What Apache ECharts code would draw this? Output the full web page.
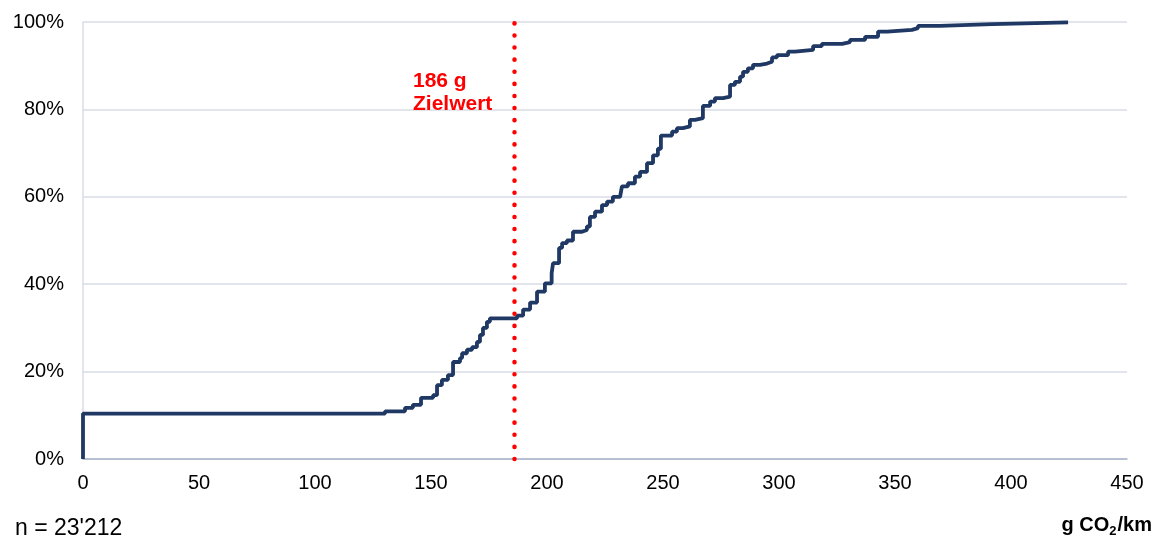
<!DOCTYPE html>
<html><head><meta charset="utf-8">
<script src="https://cdn.jsdelivr.net/npm/echarts@6/dist/echarts.min.js"></script>
<style>html,body{margin:0;padding:0;background:#fff}#c{width:1162px;height:537px}</style>
</head><body><div id="c"></div>
<script>
// CO2 values (g/km) where cumulative share changes, and the share after the step (%)
const co2Values = [0, 0, 130.2, 138.8, 142.2, 145.7, 150.9, 152.6, 154.7, 157.3, 159.5, 162.5, 163.4, 165.5, 167.7, 169.8, 171.1, 172.4, 174.1, 175.4, 187.1, 189.7, 192.7, 195.7, 199.1, 202.0, 202.6, 205.2, 206.5, 208.6, 211.2, 215.1, 217.2, 218.5, 220.7, 223.7, 225.9, 228.4, 231.5, 232.3, 234.9, 237.9, 240.1, 243.1, 245.7, 247.8, 249.1, 253.9, 256.0, 258.6, 261.6, 263.8, 267.2, 270.3, 272.4, 275.9, 278.9, 281.0, 283.2, 284.5, 286.6, 288.8, 291.8, 294.8, 297.0, 299.1, 303.9, 306.9, 314.7, 318.5, 327.2, 330.6, 337.1, 342.7, 346.6, 357.3, 359.9, 369.4, 391.8, 424.6];
const cumShare = [0, 10.4, 10.9, 11.7, 12.4, 14.0, 14.6, 16.9, 18.1, 19.2, 22.2, 23.1, 24.2, 25.0, 25.6, 26.8, 28.4, 30.0, 31.4, 32.2, 32.8, 34.2, 35.8, 38.3, 40.2, 42.5, 44.8, 48.3, 49.4, 50.0, 52.0, 52.4, 53.2, 55.4, 56.6, 58.1, 58.9, 60.0, 60.4, 62.4, 63.1, 64.6, 65.7, 67.7, 69.5, 71.0, 74.0, 74.9, 75.7, 76.1, 77.6, 78.0, 80.8, 81.8, 82.6, 82.9, 85.6, 86.3, 87.5, 88.6, 89.4, 90.2, 90.5, 90.9, 91.9, 92.4, 93.2, 93.6, 94.5, 95.0, 95.4, 95.9, 96.6, 97.8, 98.2, 98.6, 99.1, 99.5, 99.9, 100];
const xTicks = [0, 50, 100, 150, 200, 250, 300, 350, 400, 450];
const yTicks = [0, 20, 40, 60, 80, 100];
const targetValue = 186;
const targetLabel = ['186 g', 'Zielwert'];
const sampleNote = "n = 23'212";

const chart = echarts.init(document.getElementById('c'));
const font = '"Liberation Sans", Arial, sans-serif';
const data = co2Values.map((v, i) => [v, cumShare[i]]);
chart.setOption({
  animation: false,
  grid: {left: 83, right: 35, top: 22, bottom: 78},
  xAxis: {
    type: 'value', min: xTicks[0], max: xTicks[xTicks.length - 1], interval: 50,
    axisLine: {show: true, lineStyle: {color: '#a9b4cc', width: 1.5}},
    axisTick: {show: false},
    splitLine: {show: false},
    axisLabel: {color: '#000', fontSize: 20, fontFamily: font, margin: 14}
  },
  yAxis: {
    type: 'value', min: yTicks[0], max: yTicks[yTicks.length - 1], interval: 20,
    axisLine: {show: true, lineStyle: {color: '#d9dde5', width: 1.5}},
    axisTick: {show: false},
    splitLine: {show: true, lineStyle: {color: '#d9dde5', width: 1.5}},
    axisLabel: {color: '#000', fontSize: 20, fontFamily: font, margin: 19, formatter: '{value}%'}
  },
  series: [{
    type: 'line', step: 'end', data: data, symbol: 'none',
    lineStyle: {color: '#1f3864', width: 3.8},
    z: 3
  }, {
    type: 'line', data: [],
    markLine: {
      silent: true, symbol: 'none', label: {show: false},
      lineStyle: {color: '#ff0000', width: 4.5, type: [0.1, 12], cap: 'round'},
      data: [{xAxis: targetValue}]
    },
    z: 4
  }]
});

const px = chart.convertToPixel({gridIndex: 0}, [targetValue, 100]);
chart.setOption({
  graphic: [
    {type: 'text', x: 15, y: 529, style: {text: sampleNote, fontSize: 23, fontFamily: font, fill: '#000', verticalAlign: 'middle'}},
    {type: 'text', x: 1152, y: 525, style: {
      text: '{a|g CO}{s|2}{a|/km}', fill: '#000', align: 'right', verticalAlign: 'middle',
      rich: {
        a: {fontSize: 20, fontWeight: 'bold', fontFamily: font, fill: '#000'},
        s: {fontSize: 13, fontWeight: 'bold', fontFamily: font, fill: '#000', padding: [12, 1, 0, 0]}
      }
    }},
    {type: 'text', x: Math.round(px[0]) - 102, y: 70, style: {
      text: targetLabel.join('\n'), fontSize: 21, fontWeight: 'bold', fontFamily: font,
      fill: '#ff0000', align: 'left', lineHeight: 23
    }}
  ]
});
</script></body></html>
